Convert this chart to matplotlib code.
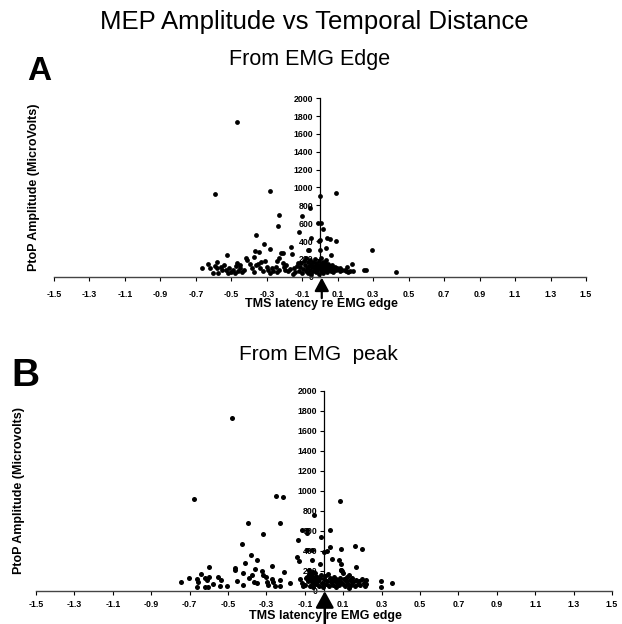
import matplotlib
matplotlib.use("Agg")
import matplotlib.pyplot as plt

plt.rcParams['font.family'] = ['Liberation Sans', 'DejaVu Sans']

# panel A: latency re EMG edge (s) vs PtoP amplitude (uV)
edge_latency = [
    -0.466, -0.590, -0.280, -0.234, -0.239, -0.361, -0.318, -0.367, -0.343, -0.283,
    -0.218, -0.162, -0.160, -0.117, -0.100, -0.522, 0.000, 0.088, 0.004, 0.015,
    0.000, -0.005, 0.038, 0.056, 0.088, 0.034, 0.000, 0.062, -0.062, -0.053,
    -0.056, -0.010, 0.293, 0.427, 0.258, 0.250, 0.179, -0.066,
    -0.120, -0.110, -0.105, -0.100, -0.095, -0.090, -0.085, -0.080, -0.078, -0.072,
    -0.070, -0.065, -0.062, -0.058, -0.055, -0.050, -0.048, -0.045, -0.040, -0.038,
    -0.035, -0.030, -0.028, -0.025, -0.020, -0.018, -0.015, -0.010, -0.008, -0.005,
    0.000, 0.003, 0.005, 0.008, 0.010, 0.013, 0.015, 0.018, 0.020, 0.024,
    0.027, 0.030, 0.033, 0.036, 0.040, 0.043, 0.047, 0.050, 0.055, 0.060,
    0.065, 0.070, 0.075, 0.080, 0.085, 0.090, 0.095, 0.100, 0.110, 0.115,
    0.125, 0.140, 0.145, 0.150, 0.160, 0.170, 0.185,
    -0.664, -0.630, -0.583, -0.605, -0.573, -0.541, -0.560, -0.590, -0.550, -0.530,
    -0.511, -0.490, -0.470, -0.475, -0.460, -0.451, -0.440, -0.417, -0.413, -0.385,
    -0.372, -0.351, -0.330, -0.310, -0.300, -0.338, -0.320, -0.295, -0.265, -0.250,
    -0.241, -0.230, -0.210, -0.210, -0.205, -0.195, -0.180, -0.145, -0.140, -0.150,
    -0.130, -0.125, -0.520, -0.500, -0.480, -0.620, -0.580, -0.395, -0.360, -0.270,
    -0.230, -0.280, -0.450, -0.430, -0.370, -0.240, -0.190, -0.170,
]
edge_amplitude = [
    1735, 922, 958, 690, 565, 468, 365, 290, 278, 308,
    268, 338, 250, 505, 685, 244, 900, 935, 607, 540,
    406, 395, 432, 421, 395, 320, 294, 246, 301, 432,
    770, 600, 301, 48, 71, 71, 145, 301,
    60, 110, 150, 40, 85, 180, 130, 60, 210, 100,
    160, 45, 120, 190, 80, 140, 30, 105, 170, 65,
    125, 90, 200, 50, 150, 110, 75, 130, 35, 180,
    95, 140, 60, 210, 115, 80, 165, 40, 130, 95,
    150, 70, 120, 185, 55, 100, 140, 80, 115, 65,
    95, 130, 50, 90, 110, 70, 100, 85, 60, 95,
    75, 80, 60, 110, 55, 60, 65,
    93, 137, 168, 41, 41, 134, 110, 120, 80, 70,
    100, 80, 153, 120, 60, 93, 55, 209, 190, 97,
    216, 145, 170, 171, 110, 93, 60, 75, 60, 110,
    171, 210, 264, 150, 110, 80, 60, 93, 50, 30,
    120, 150, 45, 50, 45, 100, 95, 140, 130, 100,
    70, 40, 130, 80, 50, 55, 130, 90,
]

# panel B: latency re EMG peak (s) vs PtoP amplitude (uV)
peak_latency = [
    -0.478, -0.677, -0.252, -0.216, -0.395, -0.228, -0.320, -0.426, -0.381, -0.351,
    -0.409, -0.273, -0.135, -0.143, -0.129, -0.112, -0.091, -0.088, -0.051, -0.017,
    0.030, 0.082, -0.091, -0.060, 0.000, 0.016, 0.030, 0.091, 0.164, 0.198,
    0.042, 0.079, 0.086, 0.169, -0.022, -0.065, -0.601, -0.207, 0.299, 0.299,
    0.356, 0.220, 0.220,
    -0.745, -0.704, -0.663, -0.642, -0.655, -0.620, -0.597, -0.608, -0.660, -0.620,
    -0.603, -0.577, -0.551, -0.537, -0.542, -0.504, -0.464, -0.461, -0.455, -0.424,
    -0.389, -0.377, -0.360, -0.363, -0.351, -0.325, -0.317, -0.303, -0.299, -0.291,
    -0.273, -0.265, -0.256, -0.230, -0.230, -0.178, -0.126, -0.117, -0.109, -0.091,
    -0.074, -0.065, -0.057, -0.074, -0.057, -0.040, -0.048, -0.424,
    -0.100, -0.095, -0.085, -0.080, -0.075, -0.070, -0.065, -0.060, -0.055, -0.050,
    -0.045, -0.040, -0.035, -0.030, -0.025, -0.020, -0.015, -0.010, -0.005, 0.000,
    0.005, 0.010, 0.015, 0.020, 0.025, 0.030, 0.035, 0.040, 0.045, 0.050,
    0.055, 0.060, 0.065, 0.070, 0.075, 0.080, 0.085, 0.090, 0.095, 0.100,
    0.105, 0.110, 0.115, 0.120, 0.125, 0.130, 0.135, 0.140, 0.145, 0.150,
    0.160, 0.165, 0.175, 0.180, 0.190, 0.200, 0.210, 0.215, 0.131, 0.100,
    0.090, -0.077, 0.091,
]
peak_amplitude = [
    1728, 915, 948, 932, 678, 678, 562, 462, 355, 305,
    272, 248, 505, 338, 298, 605, 605, 578, 755, 538,
    605, 898, 410, 410, 388, 398, 437, 412, 445, 415,
    312, 305, 265, 238, 265, 305, 238, 188, 98, 38,
    72, 105, 65,
    88, 128, 115, 162, 88, 122, 138, 105, 38, 32,
    32, 65, 138, 105, 45, 45, 205, 222, 98, 178,
    128, 155, 212, 88, 72, 200, 155, 132, 88, 55,
    112, 88, 45, 105, 45, 78, 112, 72, 45, 138,
    122, 105, 72, 172, 188, 138, 72, 55,
    60, 130, 95, 170, 50, 120, 150, 85, 35, 110,
    180, 65, 140, 95, 50, 125, 160, 80, 40, 115,
    150, 70, 100, 170, 45, 130, 85, 110, 60, 140,
    95, 35, 120, 75, 105, 55, 130, 90, 200, 65,
    115, 45, 95, 140, 70, 30, 105, 60, 130, 85,
    50, 110, 70, 95, 60, 120, 80, 50, 155, 172,
    205, 205, 205,
]

x_ticks = [-1.5, -1.3, -1.1, -0.9, -0.7, -0.5, -0.3, -0.1, 0.1, 0.3, 0.5, 0.7, 0.9, 1.1, 1.3, 1.5]
y_ticks = [0, 200, 400, 600, 800, 1000, 1200, 1400, 1600, 1800, 2000]
ARROW_X = 0.01

W, H = 622, 624
fig = plt.figure(figsize=(W / 100, H / 100), dpi=100)


def px_axes(left, right, top, bottom):
    return fig.add_axes([left / W, 1 - bottom / H, (right - left) / W, (bottom - top) / H])


def style(ax, ylabel, ylab_x, xlab_y, xpad):
    ax.set_xlim(-1.5, 1.5)
    ax.set_ylim(0, 2000)
    ax.spines['top'].set_visible(False)
    ax.spines['right'].set_visible(False)
    ax.spines['left'].set_position(('data', 0))
    ax.spines['left'].set_linewidth(0.9)
    ax.spines['bottom'].set_color('#444444')
    ax.spines['bottom'].set_linewidth(1.0)
    ax.set_xticks(x_ticks)
    ax.set_xticklabels([f"{t:g}" for t in x_ticks])
    ax.set_yticks(y_ticks)
    ax.tick_params(axis='x', direction='out', length=3, width=0.8, pad=xpad, labelsize=6.3)
    ax.tick_params(axis='y', direction='out', length=3, width=0.8, pad=2, labelsize=6.3)
    for lab in ax.get_xticklabels() + ax.get_yticklabels():
        lab.set_fontweight('bold')
    ax.set_ylabel(ylabel, fontsize=9, fontweight='bold')
    ax.yaxis.set_label_coords(ylab_x, 0.5)
    ax.set_xlabel('TMS latency re EMG edge', fontsize=9, fontweight='bold')
    ax.xaxis.set_label_coords(0.503, xlab_y)


# panel A
axA = px_axes(54, 586, 98.3, 276.7)
axA.scatter(edge_latency, edge_amplitude, s=12, color='black', linewidths=0, clip_on=False, zorder=3)
style(axA, 'PtoP Amplitude (MicroVolts)', -0.026, -0.122, 6.5)
axA.annotate('', xy=(ARROW_X, -0.005), xycoords=('data', 'axes fraction'),
             xytext=(ARROW_X, -0.12), textcoords=('data', 'axes fraction'),
             arrowprops=dict(arrowstyle='-|>,head_length=8,head_width=4.3', mutation_scale=1,
                             lw=1.6, color='black', shrinkA=0, shrinkB=0),
             annotation_clip=False)

# panel B
axB = px_axes(36, 612, 390.5, 590.5)
axB.scatter(peak_latency, peak_amplitude, s=13, color='black', linewidths=0, clip_on=False, zorder=3)
style(axB, 'PtoP Amplitude (Microvolts)', -0.019, -0.1, 3.5)
axB.annotate('', xy=(0.004, -0.003), xycoords=('data', 'axes fraction'),
             xytext=(0.004, -0.17), textcoords=('data', 'axes fraction'),
             arrowprops=dict(arrowstyle='-|>,head_length=10,head_width=5.5', mutation_scale=1,
                             lw=1.8, color='black', shrinkA=0, shrinkB=0),
             annotation_clip=False)

# titles and panel letters
fig.text(314 / W, 1 - 22 / H, 'MEP Amplitude vs Temporal Distance', fontsize=18.5,
         ha='center', va='center')
fig.text(310 / W, 1 - 60 / H, 'From EMG Edge', fontsize=15.5, ha='center', va='center')
fig.text(318 / W, 1 - 354 / H, 'From EMG  peak', fontsize=15, ha='center', va='center')
fig.text(27 / W, 1 - 72 / H, 'A', fontsize=24, fontweight='bold', ha='left', va='center')
fig.text(11 / W, 1 - 376 / H, 'B', fontsize=28, fontweight='bold', ha='left', va='center')

fig.savefig('out.png', dpi=100)
